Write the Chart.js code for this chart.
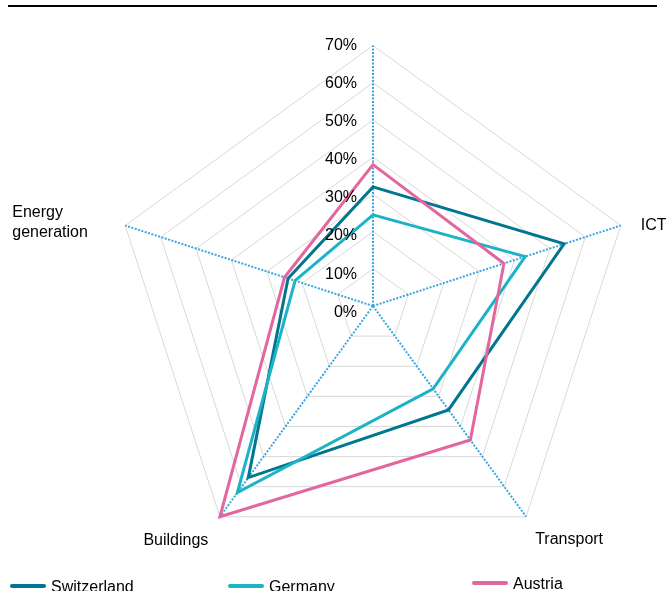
<!DOCTYPE html>
<html>
<head>
<meta charset="utf-8">
<script src="https://cdn.jsdelivr.net/npm/chart.js@4.4.1/dist/chart.umd.min.js"></script>
<style>
  html, body { margin: 0; padding: 0; background: #fff; }
  #wrap { position: relative; width: 666px; height: 591px; overflow: hidden; }
</style>
</head>
<body>
<div id="wrap"><canvas id="radarChart" width="666" height="591"></canvas></div>
<script>
// data (percent)
const categories = ['', 'ICT', 'Transport', 'Buildings', 'Energy generation'];
const switzerland = [32, 54, 34.5, 57, 24];
const germany = [24.5, 43, 27.5, 62, 22];
const austria = [38, 37, 44.5, 70, 25];
const tickValues = [0, 10, 20, 30, 40, 50, 60, 70];
const seriesNames = ['Switzerland', 'Germany', 'Austria'];

// layout
const CENTER_X = 373;
const CENTER_Y = 306;
const RADIUS = 260.5;
const FONT = '16px "Liberation Sans", Arial, sans-serif';
const colors = ['#00778f', '#1db3c6', '#e2679f'];

// where each axis label sits relative to its outer vertex
const labelPlacement = [
    null,
    { dx: 20, dy: 0, align: 'left' },
    { dx: 43, dy: 23, align: 'center' },
    { dx: -44, dy: 24, align: 'center' },
    { dx: -113, dy: -13, align: 'left', lines: ['Energy', 'generation'] }
];

// legend items (swatch start x, middle y)
const legendSpots = [
    { x: 10, y: 586 },
    { x: 228, y: 586 },
    { x: 472, y: 583 }
];

const decorPlugin = {
    id: 'decor',
    beforeDraw(chart) {
        const ctx = chart.ctx;
        ctx.save();
        ctx.strokeStyle = '#000';
        ctx.lineWidth = 2;
        ctx.beginPath();
        ctx.moveTo(8, 6);
        ctx.lineTo(657, 6);
        ctx.stroke();
        ctx.restore();
    },
    afterDraw(chart) {
        const ctx = chart.ctx;
        const scale = chart.scales.r;
        ctx.save();
        ctx.font = FONT;
        ctx.fillStyle = '#000';

        // tick labels, left of the top axis
        const top = scale.getDistanceFromCenterForValue(tickValues[tickValues.length - 1]);
        ctx.textAlign = 'right';
        ctx.textBaseline = 'middle';
        tickValues.forEach(v => {
            const d = scale.getDistanceFromCenterForValue(v);
            const y = scale.yCenter - top + (top - d) * 1.024;
            ctx.fillText(v + '%', scale.xCenter - 16, y);
        });

        // axis labels
        categories.forEach((label, i) => {
            const p = labelPlacement[i];
            if (!p || !label) return;
            const pos = scale.getPointPosition(i, scale.drawingArea);
            ctx.textAlign = p.align;
            const lines = p.lines || [label];
            lines.forEach((line, k) => {
                ctx.fillText(line, pos.x + p.dx, pos.y + p.dy + k * 20);
            });
        });

        // legend
        ctx.textAlign = 'left';
        chart.data.datasets.forEach((ds, i) => {
            const s = legendSpots[i];
            ctx.strokeStyle = ds.borderColor;
            ctx.lineWidth = 4;
            ctx.lineCap = 'round';
            ctx.beginPath();
            ctx.moveTo(s.x + 2, s.y);
            ctx.lineTo(s.x + 34, s.y);
            ctx.stroke();
            ctx.fillText(ds.label, s.x + 41, s.y + 2);
        });
        ctx.restore();
    }
};

const dataRadar = {
    labels: categories,
    datasets: [
        { label: seriesNames[0], data: switzerland, borderColor: colors[0], order: 2 },
        { label: seriesNames[1], data: germany, borderColor: colors[1], order: 1 },
        { label: seriesNames[2], data: austria, borderColor: colors[2], order: 0 }
    ].map(ds => ({
        ...ds,
        backgroundColor: 'transparent',
        borderWidth: 3,
        borderJoinStyle: 'miter',
        pointRadius: 0,
        pointHoverRadius: 0,
        fill: false,
        tension: 0
    }))
};

const optionsRadar = {
    responsive: false,
    animation: false,
    layout: { padding: 0 },
    plugins: {
        legend: { display: false },
        tooltip: { enabled: false }
    },
    scales: {
        r: {
            min: 0,
            max: 70,
            ticks: { stepSize: 10, display: false },
            pointLabels: { display: false },
            grid: { color: '#d9d9d9', lineWidth: 1, circular: false },
            angleLines: { color: '#3aa6e0', lineWidth: 2, borderDash: [2, 1.5] },
            afterFit(scale) {
                scale.xCenter = CENTER_X;
                scale.yCenter = CENTER_Y;
                scale.drawingArea = RADIUS;
            }
        }
    }
};

new Chart(document.getElementById('radarChart').getContext('2d'), {
    type: 'radar',
    data: dataRadar,
    options: optionsRadar,
    plugins: [decorPlugin]
});
</script>
</body>
</html>
